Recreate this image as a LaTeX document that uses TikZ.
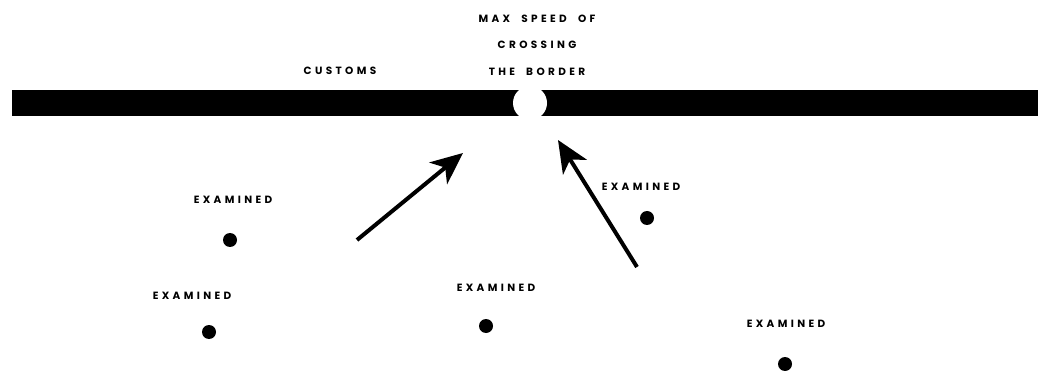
\documentclass[tikz,border=0pt]{standalone}
\usepackage{fontspec}
\setmainfont{Poppins}
\newfontfamily\lblfont{Poppins}[LetterSpace=32,WordSpace=2]
\usetikzlibrary{arrows.meta}
\begin{document}
\begin{tikzpicture}[x=1pt,y=-1pt,
  lbl/.style={font=\lblfont\fontsize{10.5}{26.5}\selectfont\bfseries, inner sep=0pt, align=center},
  dot/.style={circle, fill=black, minimum size=14pt, inner sep=0pt},
  arr/.style={line width=4pt, -{Stealth[length=32pt,width=28pt,inset=9pt]}}]
\useasboundingbox (0,0) rectangle (1038,371);
% border bar
\fill[black] (12,90) rectangle (1038,116);
\fill[white] (530,103) circle (17);
\node[lbl] (customs) at (340,71) {CUSTOMS};
\node[lbl, align=center] (maxspeed) at (537,45) {MAX SPEED OF\\CROSSING\\THE BORDER};
% examined points
\node[dot] (d1) at (230,240) {};
\node[dot] (d2) at (209,332) {};
\node[dot] (d3) at (486,326) {};
\node[dot] (d4) at (647,218) {};
\node[dot] (d5) at (785,364) {};
\node[lbl] (l1) at (233,200) {EXAMINED};
\node[lbl] (l2) at (192,296) {EXAMINED};
\node[lbl] (l3) at (496,288) {EXAMINED};
\node[lbl] (l4) at (641,187) {EXAMINED};
\node[lbl] (l5) at (786,324) {EXAMINED};
% arrows
\coordinate (a1s) at (357,240);
\coordinate (a1e) at (463,153);
\coordinate (a2s) at (637,267);
\coordinate (a2e) at (558,140);
\draw[arr] (a1s) -- (a1e);
\draw[arr] (a2s) -- (a2e);
\end{tikzpicture}
\end{document}
